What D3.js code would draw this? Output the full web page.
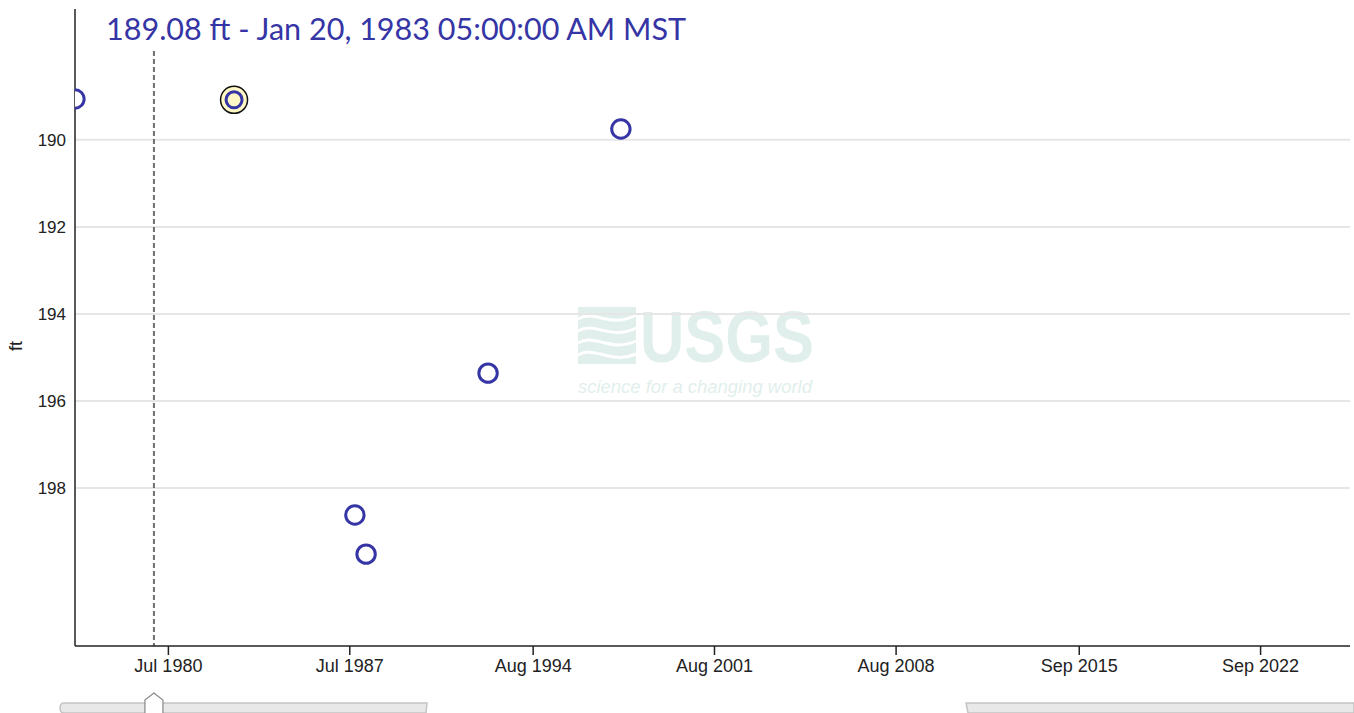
<!DOCTYPE html>
<html><head><meta charset="utf-8">
<script src="https://cdn.jsdelivr.net/npm/d3@7"></script>
<style>html,body{margin:0;padding:0;background:#fff;overflow:hidden}</style>
</head><body>
<svg id="chart" width="1354" height="713"></svg>
<script>
// ---- data ----
const pointDates = ["1976-11-28", "1983-01-20", "1987-09-20", "1988-02-25", "1992-11-10", "1997-12-27"];
const pointValues = [189.06, 189.08, 198.62, 199.52, 195.36, 189.75];
const highlightIndex = 1;
const titleText = "189.08 ft - Jan 20, 1983 05:00:00 AM MST";
const xTickDates = ["1980-07-01", "1987-07-03", "1994-08-01", "2001-08-01", "2008-08-05", "2015-09-01", "2022-09-01"];
const xTickLabels = ["Jul 1980", "Jul 1987", "Aug 1994", "Aug 2001", "Aug 2008", "Sep 2015", "Sep 2022"];
const yTickValues = [190, 192, 194, 196, 198];
const xDomain = ["1976-11-29", "2026-02-20"];
const yDomain = [186.97, 201.63];
const markerDate = "1979-12-17";
const yLabel = "ft";

const parse = d3.utcParse("%Y-%m-%d");
const svg = d3.select("#chart");
const L = 75, R = 1350, T = 8, B = 646;
const FONT = "'Liberation Sans', Arial, Helvetica, sans-serif";
const x = d3.scaleUtc().domain(xDomain.map(parse)).range([L, R]);
const y = d3.scaleLinear().domain(yDomain).range([T, B]);

// clip
svg.append("defs").append("clipPath").attr("id", "plotclip")
  .append("rect").attr("x", L).attr("y", 0).attr("width", R - L).attr("height", B);

// USGS watermark
const logo = svg.append("g").attr("opacity", 0.45);
const lc = "#bcdcd4";
logo.append("rect").attr("x", 578).attr("y", 307).attr("width", 58).attr("height", 57).attr("fill", lc);
[319, 331, 343, 355].forEach((yy, i) => {
  logo.append("path")
    .attr("d", `M578,${yy} C595,${yy - 10} 610,${yy + 10} 636,${yy - 4 + i}`)
    .attr("stroke", "#fff").attr("stroke-width", 3).attr("fill", "none");
});
logo.append("text").attr("x", 640).attr("y", 362)
  .attr("font-family", FONT).attr("font-weight", "bold")
  .attr("font-size", 72).attr("textLength", 174).attr("lengthAdjust", "spacingAndGlyphs")
  .attr("fill", lc).text("USGS");
logo.append("text").attr("x", 578).attr("y", 393)
  .attr("font-family", FONT).attr("font-style", "italic")
  .attr("font-size", 18).attr("textLength", 234).attr("lengthAdjust", "spacingAndGlyphs")
  .attr("fill", lc).text("science for a changing world");

// gridlines
svg.append("g").selectAll("line").data(yTickValues).join("line")
  .attr("x1", L).attr("x2", R).attr("y1", d => y(d)).attr("y2", d => y(d))
  .attr("stroke", "#e6e6e6").attr("stroke-width", 2);

// marker dashed line
svg.append("line")
  .attr("x1", x(parse(markerDate))).attr("x2", x(parse(markerDate)))
  .attr("y1", 51).attr("y2", B)
  .attr("stroke", "#6e6e6e").attr("stroke-width", 2).attr("stroke-dasharray", "5,3");

// y axis
const yAxis = svg.append("g").attr("transform", `translate(${L},0)`)
  .call(d3.axisLeft(y).tickValues(yTickValues).tickSize(0).tickPadding(9).tickFormat(d3.format("d")));
yAxis.select(".domain").remove();
yAxis.selectAll("text").attr("font-family", FONT).attr("font-size", 17).attr("fill", "#222");
svg.append("line").attr("x1", L).attr("x2", L).attr("y1", T + 1).attr("y2", B)
  .attr("stroke", "#222").attr("stroke-width", 1.5);

// x axis
const xAxis = svg.append("g").attr("transform", `translate(0,${B})`)
  .call(d3.axisBottom(x).tickValues(xTickDates.map(parse)).tickSize(9).tickPadding(4)
    .tickFormat((d, i) => xTickLabels[i]));
xAxis.select(".domain").remove();
xAxis.selectAll(".tick line").attr("stroke", "#222").attr("stroke-width", 1.5);
xAxis.selectAll("text").attr("font-family", FONT).attr("font-size", 18).attr("fill", "#222");
svg.append("line").attr("x1", L).attr("x2", R).attr("y1", B).attr("y2", B)
  .attr("stroke", "#222").attr("stroke-width", 1.5);

// y label
svg.append("text").attr("transform", "translate(22,346) rotate(-90)")
  .attr("text-anchor", "middle").attr("font-family", FONT)
  .attr("font-size", 18).attr("fill", "#222").text(yLabel);

// points
const pts = pointDates.map((d, i) => ({ date: parse(d), value: pointValues[i], i }));
const pg = svg.append("g").attr("clip-path", "url(#plotclip)");
const hl = pts[highlightIndex];
pg.append("circle").attr("cx", x(hl.date)).attr("cy", y(hl.value)).attr("r", 13.5)
  .attr("fill", "#fff8c4").attr("stroke", "#111").attr("stroke-width", 1.5);
pg.selectAll("circle.pt").data(pts).join("circle").attr("class", "pt")
  .attr("cx", d => x(d.date)).attr("cy", d => y(d.value))
  .attr("r", d => d.i === highlightIndex ? 8 : 9.2)
  .attr("fill", d => d.i === highlightIndex ? "#fff8c4" : "#fff")
  .attr("stroke", "#3535a5").attr("stroke-width", 3);

// title
svg.append("text").attr("x", 106).attr("y", 40)
  .attr("font-family", "Lato, sans-serif").attr("font-size", 31)
  .attr("textLength", 580).attr("lengthAdjust", "spacingAndGlyphs")
  .attr("fill", "#3535a5").text(titleText);

// slider
const sl = svg.append("g");
sl.append("path").attr("d", "M64,703 L427,703 L426,713 L64,713 Q60,713 60,708 Q60,703 64,703 Z")
  .attr("fill", "#e8e8e8").attr("stroke", "#c4c4c4").attr("stroke-width", 1.5);
const hx = x(parse(markerDate));
sl.append("path").attr("d", `M${hx - 9},714 L${hx - 9},700 L${hx},693 L${hx + 9},700 L${hx + 9},714`)
  .attr("fill", "#fff").attr("stroke", "#888").attr("stroke-width", 1.2);
sl.append("path").attr("d", "M966,703 L1354,703 L1354,713 L968,713 Z")
  .attr("fill", "#e8e8e8").attr("stroke", "#c4c4c4").attr("stroke-width", 1.5);
</script>
</body></html>
